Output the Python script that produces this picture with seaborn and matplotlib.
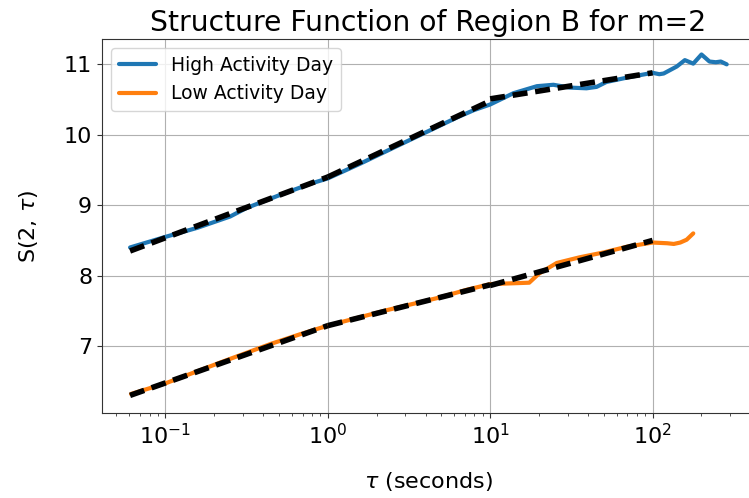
import matplotlib
matplotlib.use("Agg")
import matplotlib.pyplot as plt
import seaborn as sns
import pandas as pd

# ---- data ----
high_tau = [0.0607, 0.1, 0.158, 0.251, 0.316, 0.501, 0.794, 1.0, 1.585, 2.51, 3.98, 6.31, 7.94,
            10.0, 13.9, 19.4, 24.5, 30.9, 39.2, 45.2, 52.0, 72.4, 100.0, 110.0, 117.0, 141.0,
            158.0, 178.0, 200.0, 224.0, 245.0, 263.0, 286.0]
high_s = [8.40, 8.55, 8.68, 8.84, 8.96, 9.14, 9.31, 9.38, 9.59, 9.81, 10.03, 10.25, 10.35,
          10.43, 10.59, 10.69, 10.71, 10.67, 10.66, 10.68, 10.75, 10.82, 10.88, 10.86, 10.87, 10.97,
          11.06, 11.01, 11.14, 11.04, 11.03, 11.04, 11.00]

low_tau = [0.0615, 0.1, 0.22, 0.445, 0.68, 1.0, 2.31, 4.69, 7.2, 10.0, 13.2, 17.4, 20.0,
           25.7, 35.5, 50.1, 69.2, 100.0, 123.0, 135.0, 148.0, 162.0, 178.0]
low_s = [6.32, 6.47, 6.77, 7.03, 7.17, 7.29, 7.51, 7.68, 7.80, 7.88, 7.89, 7.90, 8.03,
         8.18, 8.26, 8.33, 8.41, 8.47, 8.46, 8.45, 8.47, 8.51, 8.60]

# piecewise fits: (tau_start, tau_end), (S_start, S_end)
fit_tau = [(0.0607, 1.0), (1.0, 10.0), (10.0, 100.0)]
high_fit_s = [(8.35, 9.40), (9.40, 10.48), (10.51, 10.88)]
low_fit_s = [(6.30, 7.29), (7.29, 7.87), (7.86, 8.50)]

title = "Structure Function of Region B for m=2"
xlabel = r"$\tau$ (seconds)"
ylabel = r"S(2, $\tau$)"

# ---- plotting ----
sns.set_style("ticks")
plt.rcParams['font.family'] = ['DejaVu Sans']
plt.rcParams['text.color'] = 'black'
plt.rcParams['axes.labelcolor'] = 'black'
plt.rcParams['xtick.color'] = 'black'
plt.rcParams['ytick.color'] = 'black'
fig = plt.figure(figsize=(7.49, 4.98), dpi=100)
ax = fig.add_axes([0.136, 0.1707, 0.872, 0.751])

df_high = pd.DataFrame({"tau": high_tau, "S": high_s})
df_low = pd.DataFrame({"tau": low_tau, "S": low_s})
sns.lineplot(data=df_high, x="tau", y="S", ax=ax, color="#1f77b4", lw=3,
             label="High Activity Day", estimator=None, sort=False)
sns.lineplot(data=df_low, x="tau", y="S", ax=ax, color="#ff7f0e", lw=3,
             label="Low Activity Day", estimator=None, sort=False)

for fits in (high_fit_s, low_fit_s):
    for (t0, t1), (s0, s1) in zip(fit_tau, fits):
        ax.plot([t0, t1], [s0, s1], color="black", lw=4, linestyle=(0, (2.7, 1.4)), zorder=5)

ax.set_xscale("log")
ax.set_xlim(0.0407, 427)
ax.set_ylim(6.05, 11.36)
ax.set_yticks([7, 8, 9, 10, 11])
ax.grid(True, which="major", color="#b0b0b0", lw=0.8)
ax.tick_params(axis="both", which="major", labelsize=16, length=3.5, width=0.8,
               color="#333333", labelcolor="black")
ax.tick_params(axis="x", which="minor", length=2, width=0.6, color="#333333")
for sp in ax.spines.values():
    sp.set_color("#333333")
    sp.set_linewidth(0.8)

ax.set_title(title, fontsize=20.3, pad=6, color="black")
ax.set_xlabel(xlabel, fontsize=16, labelpad=16, color="black")
ax.set_ylabel(ylabel, fontsize=16, labelpad=17, color="black")
leg = ax.legend(loc="upper left", fontsize=13.5, frameon=True, handlelength=2.0)
for t in leg.get_texts():
    t.set_color("black")

fig.savefig("out.png", dpi=100)
